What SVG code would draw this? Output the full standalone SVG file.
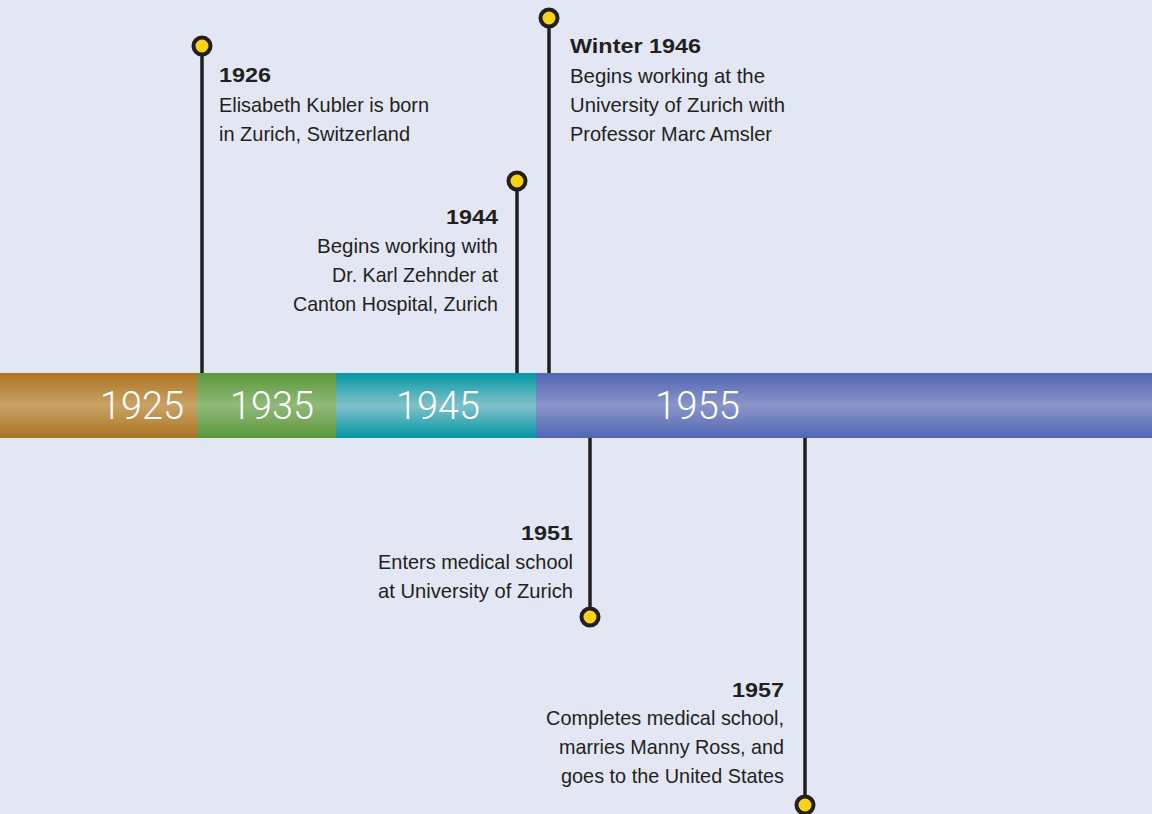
<svg xmlns="http://www.w3.org/2000/svg" width="1152" height="814" viewBox="0 0 1152 814">
<defs>
<linearGradient id="gBrown" x1="0" y1="0" x2="0" y2="1"><stop offset="0" stop-color="#ad7520"/><stop offset="0.5" stop-color="#c9a266"/><stop offset="1" stop-color="#ab7420"/></linearGradient>
<linearGradient id="gGreen" x1="0" y1="0" x2="0" y2="1"><stop offset="0" stop-color="#5b983a"/><stop offset="0.5" stop-color="#90b97a"/><stop offset="1" stop-color="#5a9739"/></linearGradient>
<linearGradient id="gTeal" x1="0" y1="0" x2="0" y2="1"><stop offset="0" stop-color="#0398a5"/><stop offset="0.5" stop-color="#80c1c9"/><stop offset="1" stop-color="#0397a4"/></linearGradient>
<linearGradient id="gBlue" x1="0" y1="0" x2="0" y2="1"><stop offset="0" stop-color="#5165b2"/><stop offset="0.5" stop-color="#8a95c9"/><stop offset="1" stop-color="#5165b2"/></linearGradient>
</defs>
<style>
.conn{stroke:#231f20;stroke-width:3.5;fill:none}
.dot{fill:#f7d417;stroke:#231f20;stroke-width:4}
.t{font-family:"Liberation Sans",Arial,sans-serif;font-size:21px;fill:#231f20}
.b{font-family:"Liberation Sans",Arial,sans-serif;font-size:20px;font-weight:bold;fill:#231f20}
.r{text-anchor:end}
.yr{font-family:Roboto,"Liberation Sans",Arial,sans-serif;font-weight:300;font-size:38px;fill:#ffffff;text-anchor:end}
</style>
<rect x="0" y="0" width="1152" height="814" fill="#e3e7f3"/>
<g id="connectors">
<line class="conn" x1="202" y1="46" x2="202" y2="374"/>
<line class="conn" x1="517" y1="181" x2="517" y2="374"/>
<line class="conn" x1="549" y1="18" x2="549" y2="374"/>
<line class="conn" x1="590" y1="437" x2="590" y2="617"/>
<line class="conn" x1="805" y1="437" x2="805" y2="805"/>
</g>
<g id="timeline">
<rect x="0" y="373" width="198" height="65" fill="url(#gBrown)"/>
<rect x="197" y="373" width="140" height="65" fill="url(#gGreen)"/>
<rect x="336" y="373" width="201" height="65" fill="url(#gTeal)"/>
<rect x="536" y="373" width="616" height="65" fill="url(#gBlue)"/>
<text class="yr" x="184" y="419" textLength="84" lengthAdjust="spacingAndGlyphs">1925</text>
<text class="yr" x="314" y="419" textLength="84" lengthAdjust="spacingAndGlyphs">1935</text>
<text class="yr" x="480" y="419" textLength="84" lengthAdjust="spacingAndGlyphs">1945</text>
<text class="yr" x="740" y="419" textLength="85" lengthAdjust="spacingAndGlyphs">1955</text>
</g>
<g id="n1926">
<circle class="dot" cx="202" cy="46" r="8.5"/>
<text class="b" x="219" y="82" textLength="52" lengthAdjust="spacingAndGlyphs">1926</text>
<text class="t" x="219" y="112" textLength="210" lengthAdjust="spacingAndGlyphs">Elisabeth Kubler is born</text>
<text class="t" x="219" y="141" textLength="191" lengthAdjust="spacingAndGlyphs">in Zurich, Switzerland</text>
</g>
<g id="n1944">
<circle class="dot" cx="517" cy="181" r="8.5"/>
<text class="b r" x="498" y="224" textLength="52" lengthAdjust="spacingAndGlyphs">1944</text>
<text class="t r" x="498" y="253" textLength="181" lengthAdjust="spacingAndGlyphs">Begins working with</text>
<text class="t r" x="498" y="282" textLength="166" lengthAdjust="spacingAndGlyphs">Dr. Karl Zehnder at</text>
<text class="t r" x="498" y="311" textLength="205" lengthAdjust="spacingAndGlyphs">Canton Hospital, Zurich</text>
</g>
<g id="n1946">
<circle class="dot" cx="549" cy="18" r="8.5"/>
<text class="b" x="570" y="53" textLength="131" lengthAdjust="spacingAndGlyphs">Winter 1946</text>
<text class="t" x="570" y="83" textLength="195" lengthAdjust="spacingAndGlyphs">Begins working at the</text>
<text class="t" x="570" y="112" textLength="215" lengthAdjust="spacingAndGlyphs">University of Zurich with</text>
<text class="t" x="570" y="141" textLength="202" lengthAdjust="spacingAndGlyphs">Professor Marc Amsler</text>
</g>
<g id="n1951">
<circle class="dot" cx="590" cy="617" r="8.5"/>
<text class="b r" x="573" y="540" textLength="52" lengthAdjust="spacingAndGlyphs">1951</text>
<text class="t r" x="573" y="569" textLength="195" lengthAdjust="spacingAndGlyphs">Enters medical school</text>
<text class="t r" x="573" y="598" textLength="195" lengthAdjust="spacingAndGlyphs">at University of Zurich</text>
</g>
<g id="n1957">
<circle class="dot" cx="805" cy="805" r="8.5"/>
<text class="b r" x="784" y="697" textLength="52" lengthAdjust="spacingAndGlyphs">1957</text>
<text class="t r" x="784" y="725" textLength="238" lengthAdjust="spacingAndGlyphs">Completes medical school,</text>
<text class="t r" x="784" y="754" textLength="225" lengthAdjust="spacingAndGlyphs">marries Manny Ross, and</text>
<text class="t r" x="784" y="783" textLength="223" lengthAdjust="spacingAndGlyphs">goes to the United States</text>
</g>
</svg>
